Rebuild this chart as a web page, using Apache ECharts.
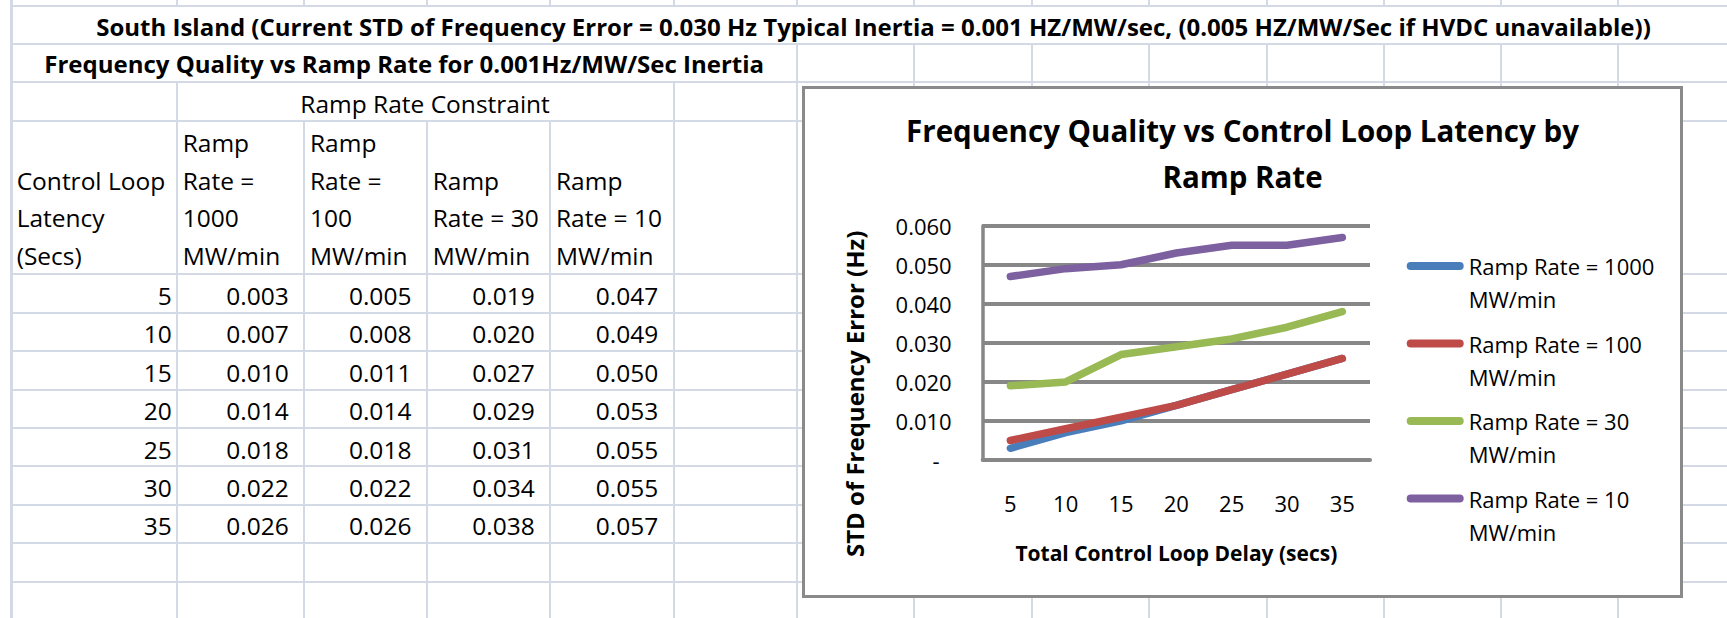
<!DOCTYPE html>
<html>
<head>
<meta charset="utf-8">
<title>Frequency Quality vs Control Loop Latency by Ramp Rate</title>
<script src="https://cdn.jsdelivr.net/npm/echarts@6.0.0/dist/echarts.min.js"></script>
<style>
html, body { margin: 0; padding: 0; background: #fff; }
#sheet { position: relative; width: 1727px; height: 618px; overflow: hidden; font-family: 'Open Sans', sans-serif; color: #000; }
.gl { position: absolute; background: #d3d9e5; }
.tx { position: absolute; height: 38px; line-height: 38px; font-size: 24.5px; white-space: nowrap; }
.tx.b { font-weight: bold; font-size: 24px; }
#chartBox { position: absolute; z-index: 2; left: 802px; top: 86px; width: 881px; height: 512px; box-sizing: border-box; border: 3px solid #8a8a8a; background: #fff; }
#chart { position: absolute; left: 0; top: 0; width: 875px; height: 506px; }
</style>
</head>
<body>
<div id="sheet">
  <div id="chartBox"><div id="chart"></div></div>
</div>
<script>
// values as they are in the sheet
var latency = [5, 10, 15, 20, 25, 30, 35];
var ramp1000 = [0.003, 0.007, 0.010, 0.014, 0.018, 0.022, 0.026];
var ramp100 = [0.005, 0.008, 0.011, 0.014, 0.018, 0.022, 0.026];
var ramp30 = [0.019, 0.020, 0.027, 0.029, 0.031, 0.034, 0.038];
var ramp10 = [0.047, 0.049, 0.050, 0.053, 0.055, 0.055, 0.057];
var seriesNames = ['Ramp Rate = 1000 MW/min', 'Ramp Rate = 100 MW/min', 'Ramp Rate = 30 MW/min', 'Ramp Rate = 10 MW/min'];
var seriesData = [ramp1000, ramp100, ramp30, ramp10];
var colors = ['#4a7ebb', '#be4b48', '#98b954', '#7d60a0'];

var sheetTitle = 'South Island (Current STD of Frequency Error = 0.030 Hz Typical Inertia = 0.001 HZ/MW/sec, (0.005 HZ/MW/Sec if HVDC unavailable))';
var tableTitle = 'Frequency Quality vs Ramp Rate for 0.001Hz/MW/Sec Inertia';
var headA = ['Control Loop', 'Latency', '(Secs)'];
var headCols = [
  ['Ramp', 'Rate =', '1000', 'MW/min'],
  ['Ramp', 'Rate =', '100', 'MW/min'],
  ['Ramp', 'Rate = 30', 'MW/min'],
  ['Ramp', 'Rate = 10', 'MW/min']
];

// sheet grid
var sheet = document.getElementById('sheet');
var colX = [11.7, 176.7, 304, 426.7, 550, 673.5, 796.7, 914, 1031.7, 1149.3, 1266.5, 1383.5, 1501, 1618.3];
var rowY = [6, 43.5, 81.7, 120.5, 274.3];
for (var r = 1; r <= 8; r++) rowY.push(274.3 + 38.43 * r);

function line(x, y, w, h) {
  var d = document.createElement('div');
  d.className = 'gl';
  d.style.left = x + 'px'; d.style.top = y + 'px';
  d.style.width = w + 'px'; d.style.height = h + 'px';
  sheet.appendChild(d);
}
function vseg(x, y1, y2) { line(x - 1, y1, 2, y2 - y1); }

rowY.forEach(function (y) { line(colX[0], y - 1, 1727 - colX[0], 2); });
colX.forEach(function (x, i) {
  if (i === 0) { line(x - 1.5, 0, 3, 618); return; }
  vseg(x, 0, 6);
  if (i >= 6) vseg(x, 43.5, 81.7);
  if (i === 1 || i >= 5) vseg(x, 81.7, 120.5);
  vseg(x, 120.5, 618);
});

function put(text, x, cy, align, bold) {
  var d = document.createElement('div');
  d.className = 'tx' + (bold ? ' b' : '');
  d.textContent = text;
  d.style.top = (cy - 19.8) + 'px';
  if (align === 'right') d.style.right = (1727 - x) + 'px';
  else d.style.left = x + 'px';
  if (align === 'center') d.style.transform = 'translateX(-50%)';
  sheet.appendChild(d);
}

put(sheetTitle, 873.5, 27.5, 'center', true);
put(tableTitle, 404.2, 65, 'center', true);
put('Ramp Rate Constraint', 425.1, 105, 'center');

var headY = [144.2, 181.7, 219.2, 256.7];
headA.forEach(function (t, i) { put(t, 16.7, headY[4 - headA.length + i], 'left'); });
headCols.forEach(function (lines, c) {
  lines.forEach(function (t, i) { put(t, colX[c + 1] + 6, headY[4 - lines.length + i], 'left'); });
});

latency.forEach(function (v, k) {
  var cy = 296.7 + 38.43 * k;
  put(String(v), 171.7, cy, 'right');
  seriesData.forEach(function (vals, c) {
    put(vals[k].toFixed(3), colX[c + 2] - 15.3, cy, 'right');
  });
});

// chart
var font = 'Open Sans';
var chart = echarts.init(document.getElementById('chart'), null, { renderer: 'svg' });
chart.setOption({
  animation: false,
  title: {
    text: 'Frequency Quality vs Control Loop Latency by\nRamp Rate',
    left: 'center',
    top: 18,
    padding: 0,
    textStyle: { fontFamily: font, fontSize: 29.5, fontWeight: 'bold', lineHeight: 46, color: '#000' }
  },
  legend: {
    orient: 'vertical',
    left: 601.7,
    top: 127.5,
    padding: 0,
    itemGap: -21.5,
    itemWidth: 57,
    itemHeight: 8,
    icon: 'path://M4 0H53A4 4 0 0 1 53 8H4A4 4 0 0 1 4 0Z',
    itemStyle: { borderWidth: 0 },
    // empty first line keeps the icon level with the first text line
    formatter: function (name) { return '\n' + name.replace(' MW/min', '\nMW/min'); },
    textStyle: { fontFamily: font, fontSize: 22, lineHeight: 33, color: '#000' }
  },
  grid: { left: 177.7, top: 136.7, width: 387.3, height: 234.3, containLabel: false, outerBoundsMode: 'none' },
  xAxis: {
    type: 'category',
    data: latency.map(String),
    boundaryGap: true,
    name: 'Total Control Loop Delay (secs)',
    nameLocation: 'middle',
    nameGap: 82,
    nameTextStyle: { fontFamily: font, fontSize: 21, fontWeight: 'bold', color: '#000' },
    axisLine: { show: true, lineStyle: { color: '#878787', width: 4 } },
    axisTick: { show: false },
    axisLabel: { margin: 32, fontFamily: font, fontSize: 22, color: '#000' },
    splitLine: { show: false }
  },
  yAxis: {
    type: 'value',
    min: 0,
    max: 0.06,
    interval: 0.01,
    name: 'STD of Frequency Error (Hz)',
    nameLocation: 'middle',
    nameRotate: 90,
    nameGap: 116,
    nameTextStyle: { fontFamily: font, fontSize: 24, fontWeight: 'bold', color: '#000', padding: [0, 102, 0, 0] },
    axisLine: { show: true, lineStyle: { color: '#878787', width: 3.5 } },
    axisTick: { show: false },
    splitLine: { show: true, lineStyle: { color: '#878787', width: 4 } },
    axisLabel: {
      margin: 31,
      fontFamily: font,
      fontSize: 22,
      color: '#000',
      formatter: function (v) { return v === 0 ? '{d|-}' : v.toFixed(3); },
      rich: { d: { fontFamily: font, fontSize: 22, color: '#000', padding: [0, 12, 0, 0] } }
    }
  },
  series: seriesNames.map(function (name, i) {
    return {
      name: name,
      type: 'line',
      data: seriesData[i],
      color: colors[i],
      symbol: 'none',
      showSymbol: false,
      lineStyle: { width: 7.5, color: colors[i], cap: 'round', join: 'round' },
      emphasis: { disabled: true }
    };
  })
});
</script>
</body>
</html>
